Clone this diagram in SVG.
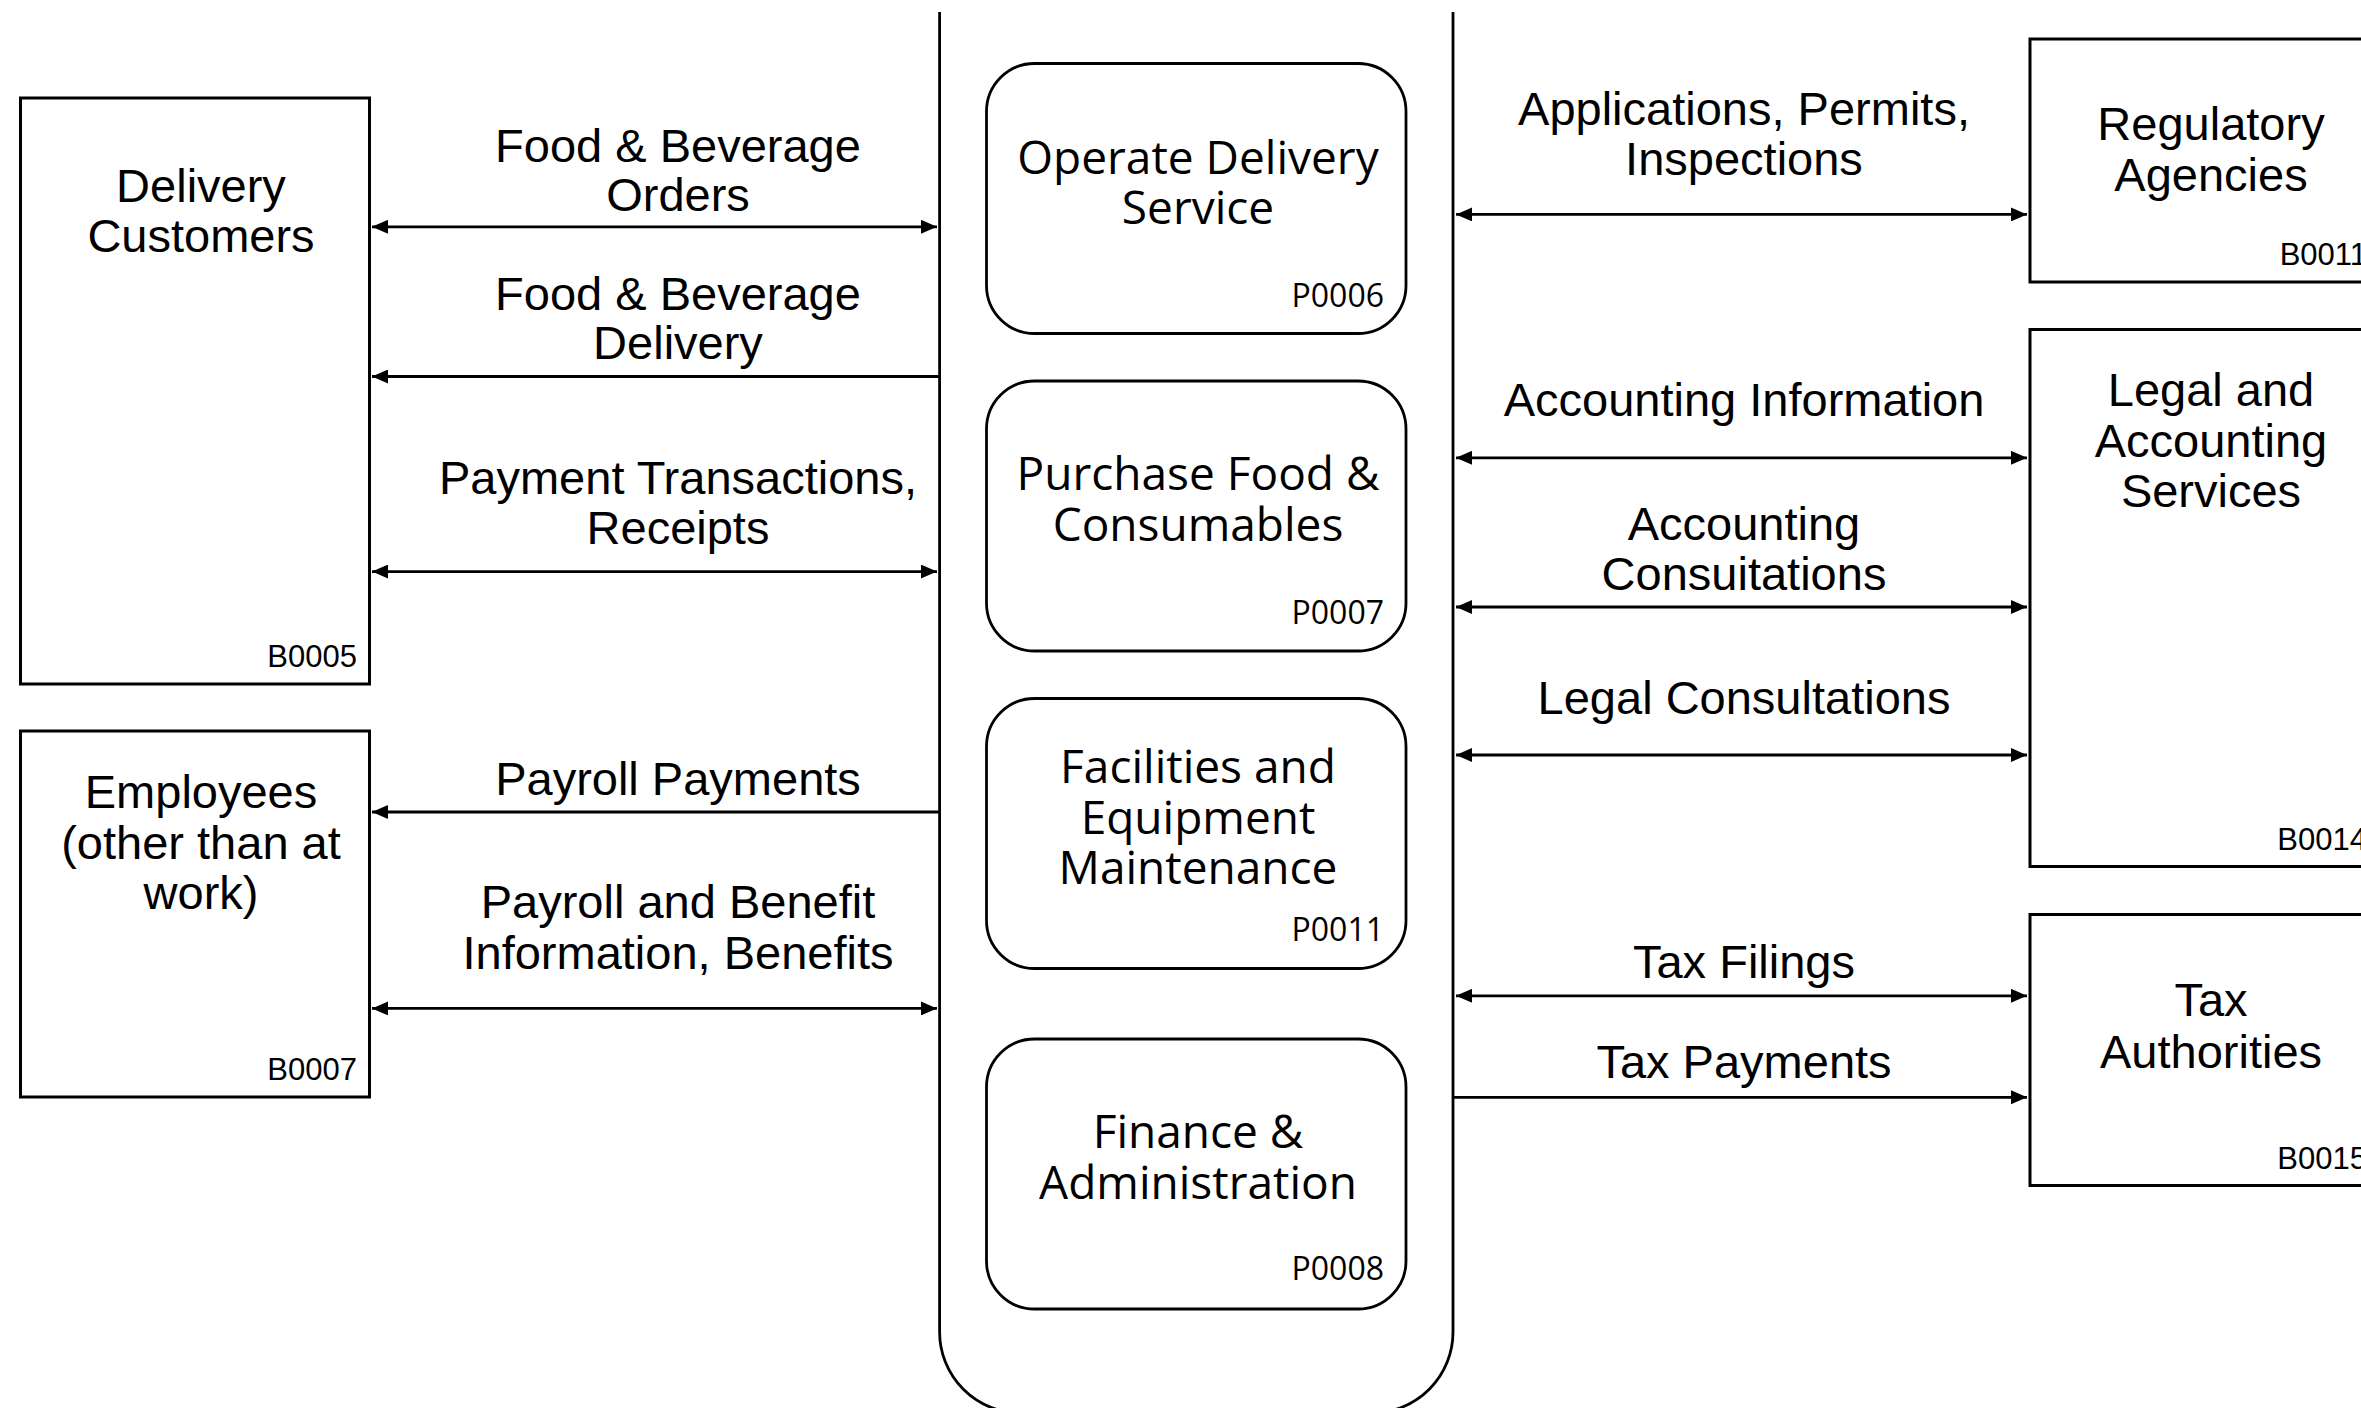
<svg xmlns="http://www.w3.org/2000/svg" width="2361" height="1408" viewBox="0 0 2361 1408">
<style>
.bg{fill:#fff}
.ext{fill:#fff;stroke:#000;stroke-width:3}
.proc{fill:#fff;stroke:#000;stroke-width:2.8}
.cont{fill:none;stroke:#000;stroke-width:2.8}
.lbl{font-family:"Liberation Sans",Arial,sans-serif;font-size:47px;fill:#000;text-anchor:middle}
.code{font-family:"Liberation Sans",Arial,sans-serif;font-size:31px;fill:#000;text-anchor:end}
.ptxt{font-family:"Open Sans","DejaVu Sans",sans-serif;font-size:46px;fill:#000;text-anchor:middle}
.pcode{font-family:"Open Sans","DejaVu Sans",sans-serif;font-size:32px;fill:#000;text-anchor:end}
.flow{fill:none;stroke:#000;stroke-width:2.8}
</style>
<defs>
<marker id="ah" viewBox="0 0 16 14" refX="16" refY="7" markerWidth="16" markerHeight="14" markerUnits="userSpaceOnUse" orient="auto-start-reverse">
<path d="M0,0 L16,7 L0,14 z" fill="#000"/>
</marker>
</defs>
<rect class="bg" x="0" y="0" width="2361" height="1408"/>

<g id="system-boundary">
<path class="cont" d="M939.6,12 V1332 A81,81 0 0 0 1020.6,1413 H1372 A81,81 0 0 0 1453,1332 V12"/>
</g>

<g id="P0006">
<rect class="proc" x="986.5" y="63.5" width="419.5" height="270" rx="48" ry="48"/>
<text class="ptxt" x="1198" y="173.6">Operate Delivery</text>
<text class="ptxt" x="1198" y="224">Service</text>
<text class="pcode" x="1384" y="306.7">P0006</text>
</g>
<g id="P0007">
<rect class="proc" x="986.5" y="381" width="419.5" height="270" rx="48" ry="48"/>
<text class="ptxt" x="1198" y="490.4">Purchase Food &amp;</text>
<text class="ptxt" x="1198" y="541">Consumables</text>
<text class="pcode" x="1384" y="624.4">P0007</text>
</g>
<g id="P0011">
<rect class="proc" x="986.5" y="698.5" width="419.5" height="270" rx="48" ry="48"/>
<text class="ptxt" x="1198" y="782.6">Facilities and</text>
<text class="ptxt" x="1198" y="834">Equipment</text>
<text class="ptxt" x="1198" y="884.2">Maintenance</text>
<text class="pcode" x="1384" y="940.7">P0011</text>
</g>
<g id="P0008">
<rect class="proc" x="986.5" y="1039" width="419.5" height="270" rx="48" ry="48"/>
<text class="ptxt" x="1198" y="1148.4">Finance &amp;</text>
<text class="ptxt" x="1198" y="1199">Administration</text>
<text class="pcode" x="1384" y="1280">P0008</text>
</g>

<g id="B0005">
<rect class="ext" x="20.5" y="98" width="349" height="586"/>
<text class="lbl" x="201" y="202">Delivery</text>
<text class="lbl" x="201" y="251.6">Customers</text>
<text class="code" x="357" y="666.7">B0005</text>
</g>
<g id="B0007">
<rect class="ext" x="20.5" y="731" width="349" height="366"/>
<text class="lbl" x="201" y="808.4">Employees</text>
<text class="lbl" x="201" y="859">(other than at</text>
<text class="lbl" x="201" y="908.6">work)</text>
<text class="code" x="357" y="1080">B0007</text>
</g>
<g id="B0011">
<rect class="ext" x="2030" y="39" width="349" height="243"/>
<text class="lbl" x="2211" y="140">Regulatory</text>
<text class="lbl" x="2211" y="190.5">Agencies</text>
<text class="code" x="2367" y="264.5">B0011</text>
</g>
<g id="B0014">
<rect class="ext" x="2030" y="329.5" width="349" height="537"/>
<text class="lbl" x="2211" y="406.3">Legal and</text>
<text class="lbl" x="2211" y="456.8">Accounting</text>
<text class="lbl" x="2211" y="507.3">Services</text>
<text class="code" x="2367" y="849.5">B0014</text>
</g>
<g id="B0015">
<rect class="ext" x="2030" y="914.5" width="349" height="271"/>
<text class="lbl" x="2211" y="1016">Tax</text>
<text class="lbl" x="2211" y="1068">Authorities</text>
<text class="code" x="2367" y="1168.5">B0015</text>
</g>

<g id="connectors">
<line class="flow" x1="372" y1="226.8" x2="937" y2="226.8" marker-start="url(#ah)" marker-end="url(#ah)"/>
<line class="flow" x1="939.6" y1="376.5" x2="372" y2="376.5" marker-end="url(#ah)"/>
<line class="flow" x1="372" y1="571.6" x2="937" y2="571.6" marker-start="url(#ah)" marker-end="url(#ah)"/>
<line class="flow" x1="939.6" y1="812" x2="372" y2="812" marker-end="url(#ah)"/>
<line class="flow" x1="372" y1="1008.4" x2="937" y2="1008.4" marker-start="url(#ah)" marker-end="url(#ah)"/>

<line class="flow" x1="1456" y1="214.4" x2="2027" y2="214.4" marker-start="url(#ah)" marker-end="url(#ah)"/>
<line class="flow" x1="1456" y1="457.8" x2="2027" y2="457.8" marker-start="url(#ah)" marker-end="url(#ah)"/>
<line class="flow" x1="1456" y1="607" x2="2027" y2="607" marker-start="url(#ah)" marker-end="url(#ah)"/>
<line class="flow" x1="1456" y1="755" x2="2027" y2="755" marker-start="url(#ah)" marker-end="url(#ah)"/>
<line class="flow" x1="1456" y1="995.8" x2="2027" y2="995.8" marker-start="url(#ah)" marker-end="url(#ah)"/>
<line class="flow" x1="1453" y1="1097.3" x2="2027" y2="1097.3" marker-end="url(#ah)"/>

<text class="lbl" x="678" y="161.6">Food &amp; Beverage</text>
<text class="lbl" x="678" y="211.2">Orders</text>
<text class="lbl" x="678" y="310">Food &amp; Beverage</text>
<text class="lbl" x="678" y="359">Delivery</text>
<text class="lbl" x="678" y="493.6">Payment Transactions,</text>
<text class="lbl" x="678" y="544">Receipts</text>
<text class="lbl" x="678" y="794.8">Payroll Payments</text>
<text class="lbl" x="678" y="917.6">Payroll and Benefit</text>
<text class="lbl" x="678" y="968.7">Information, Benefits</text>

<text class="lbl" x="1744" y="124.9">Applications, Permits,</text>
<text class="lbl" x="1744" y="174.5">Inspections</text>
<text class="lbl" x="1744" y="415.5">Accounting Information</text>
<text class="lbl" x="1744" y="539.5">Accounting</text>
<text class="lbl" x="1744" y="590">Consuitations</text>
<text class="lbl" x="1744" y="714">Legal Consultations</text>
<text class="lbl" x="1744" y="977.7">Tax Filings</text>
<text class="lbl" x="1744" y="1078.4">Tax Payments</text>
</g>
</svg>
